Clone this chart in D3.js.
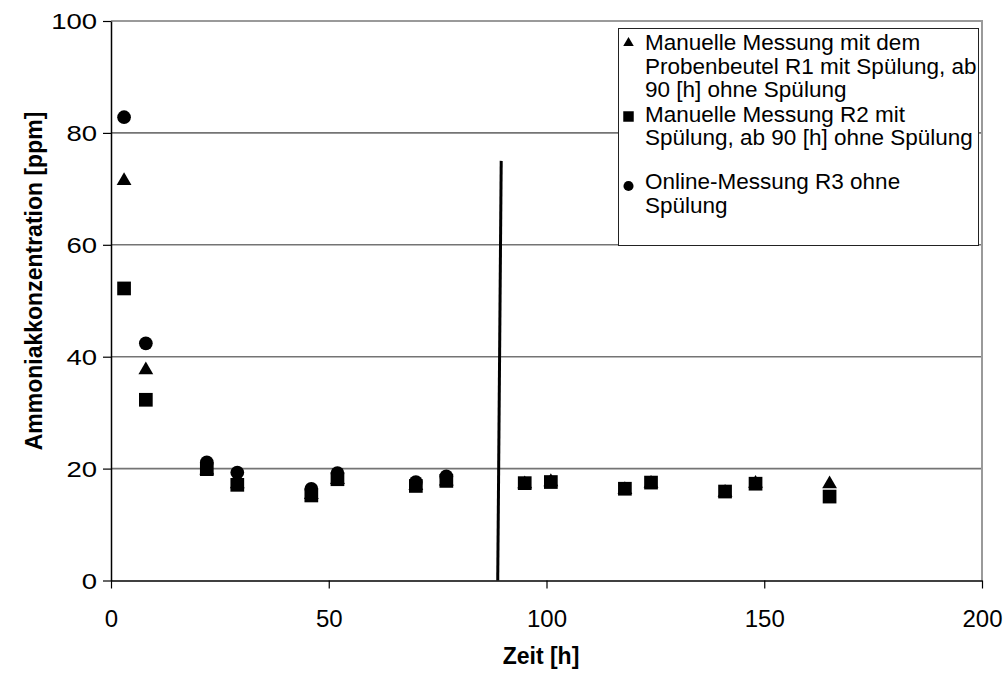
<!DOCTYPE html>
<html>
<head>
<meta charset="utf-8">
<script src="https://cdn.jsdelivr.net/npm/d3@7/dist/d3.min.js"></script>
<style>
  html, body { margin: 0; padding: 0; background: #fff; }
  svg { display: block; font-family: Arial, "Liberation Sans", sans-serif; }
</style>
</head>
<body>
<svg id="chart" width="1007" height="673"></svg>
<script>
// Sampling times [h]
const timesR1 = [3, 8, 22, 29, 46, 52, 70, 77, 95, 101, 118, 124, 141, 148, 165];
const timesR2 = [3, 8, 22, 29, 46, 52, 70, 77, 95, 101, 118, 124, 141, 148, 165];
const timesR3 = [3, 8, 22, 29, 46, 52, 70, 77];

// Ammonia concentration [ppm]
const valuesR1 = [71.7, 37.9, 20.0, 17.5, 15.6, 18.3, 17.2, 18.0, 17.5, 17.9, 16.5, 17.6, 16.0, 17.6, 17.5];
const valuesR2 = [52.2, 32.3, 19.9, 17.1, 15.2, 18.1, 16.9, 17.8, 17.4, 17.6, 16.4, 17.5, 15.9, 17.3, 15.0];
const valuesR3 = [82.8, 42.4, 21.1, 19.3, 16.4, 19.2, 17.6, 18.6];

// Marker line for the change at ~90 h (end of rinsing)
const changeLine = [[88.8, 0], [89.6, 75]];

const xTicks = [0, 50, 100, 150, 200];
const yTicks = [0, 20, 40, 60, 80, 100];

const legendR1 = ["Manuelle Messung mit dem", "Probenbeutel R1 mit Spülung, ab", "90 [h] ohne Spülung"];
const legendR2 = ["Manuelle Messung R2 mit", "Spülung, ab 90 [h] ohne Spülung"];
const legendR3 = ["Online-Messung R3 ohne", "Spülung"];

const xTitle = "Zeit [h]";
const yTitle = "Ammoniakkonzentration [ppm]";

const svg = d3.select("#chart");
const plot = { left: 111, right: 982, top: 21, bottom: 580.5 };

const x = d3.scaleLinear().domain([0, 200]).range([plot.left, plot.right]);
const y = d3.scaleLinear().domain([0, 100]).range([plot.bottom, plot.top]);

// Horizontal gridlines
svg.append("g")
  .selectAll("line")
  .data(yTicks.filter(d => d > 0 && d < 100))
  .join("line")
  .attr("x1", plot.left).attr("x2", plot.right)
  .attr("y1", d => y(d)).attr("y2", d => y(d))
  .attr("stroke", "#747474").attr("stroke-width", 1.6);

// Plot frame (top and right)
svg.append("path")
  .attr("d", `M${plot.left},${plot.top}H${plot.right}V${plot.bottom}`)
  .attr("fill", "none").attr("stroke", "#9a9a9a").attr("stroke-width", 2);

// Axes
const xAxis = d3.axisBottom(x).tickValues(xTicks).tickSize(8).tickSizeOuter(0).tickPadding(10);
const gx = svg.append("g").attr("transform", `translate(0,${plot.bottom})`).call(xAxis);
gx.select(".domain").attr("stroke", "#000").attr("stroke-width", 1.5);
gx.selectAll(".tick line").attr("stroke", "#000").attr("stroke-width", 1.2);
gx.selectAll(".tick text").attr("font-size", 24).attr("fill", "#000")
  .attr("font-family", 'Arial, "Liberation Sans", sans-serif')
  .attr("dy", null).attr("y", 46);

const yAxis = d3.axisLeft(y).tickValues(yTicks).tickSize(8).tickSizeOuter(0).tickPadding(6);
const gy = svg.append("g").attr("transform", `translate(${plot.left},0)`).call(yAxis);
gy.select(".domain").attr("stroke", "#000").attr("stroke-width", 1.5);
gy.selectAll(".tick line").attr("stroke", "#000").attr("stroke-width", 1.2);
// y labels are set a little wider than normal
gy.selectAll(".tick text").attr("font-size", 22).attr("fill", "#000")
  .attr("font-family", 'Arial, "Liberation Sans", sans-serif')
  .attr("x", 0).attr("dy", "0.36em")
  .attr("transform", "translate(-14,0) scale(1.25,1)");

// Axis titles
svg.append("text")
  .attr("x", 541).attr("y", 664)
  .attr("text-anchor", "middle").attr("font-weight", "bold").attr("font-size", 23)
  .text(xTitle);

svg.append("text")
  .attr("transform", `translate(42,281) rotate(-90)`)
  .attr("text-anchor", "middle").attr("font-weight", "bold").attr("font-size", 23)
  .text(yTitle);

// Change line
svg.append("line")
  .attr("x1", x(changeLine[0][0])).attr("y1", y(changeLine[0][1]))
  .attr("x2", x(changeLine[1][0])).attr("y2", y(changeLine[1][1]))
  .attr("stroke", "#000").attr("stroke-width", 3);

// Series markers
const triangle = d3.symbol().type(d3.symbolTriangle).size(95);
const square = d3.symbol().type(d3.symbolSquare).size(188);
const circle = d3.symbol().type(d3.symbolCircle).size(148);

function drawSeries(times, values, sym, dy) {
  svg.append("g")
    .selectAll("path")
    .data(times.map((t, i) => [t, values[i]]))
    .join("path")
    .attr("d", sym)
    .attr("transform", d => `translate(${x(d[0])},${y(d[1]) + dy})`)
    .attr("fill", "#000");
}
drawSeries(timesR1, valuesR1, triangle, 1.5);
drawSeries(timesR2, valuesR2, square, 0);
drawSeries(timesR3, valuesR3, circle, 0);

// Legend
const lg = svg.append("g");
lg.append("rect")
  .attr("x", 618.5).attr("y", 28.5).attr("width", 360).attr("height", 217)
  .attr("fill", "#fff").attr("stroke", "#222").attr("stroke-width", 1);

const legendEntries = [
  { lines: legendR1, sym: d3.symbol().type(d3.symbolTriangle).size(48), my: 43, base: 50 },
  { lines: legendR2, sym: d3.symbol().type(d3.symbolSquare).size(110), my: 116.5, base: 121.6 },
  { lines: legendR3, sym: d3.symbol().type(d3.symbolCircle).size(80), my: 186, base: 189.3 }
];
legendEntries.forEach(e => {
  lg.append("path").attr("d", e.sym).attr("transform", `translate(628.5,${e.my})`).attr("fill", "#000");
  const t = lg.append("text").attr("font-size", 22.5).attr("fill", "#000");
  e.lines.forEach((l, i) => {
    t.append("tspan").attr("x", 645).attr("y", e.base + i * 23.6).text(l);
  });
});
</script>
</body>
</html>
